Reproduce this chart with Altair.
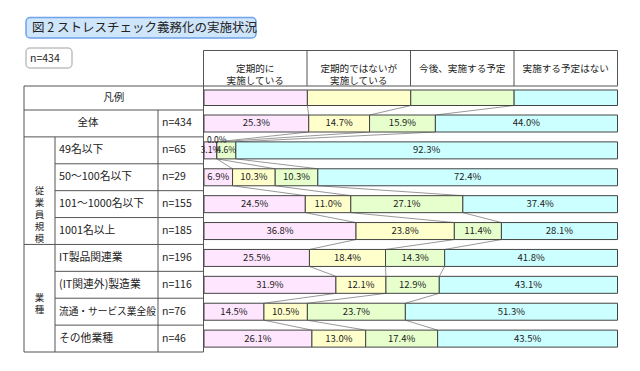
import altair as alt
import pandas as pd

# ---------------- data ----------------
title_text = "図 2 ストレスチェック義務化の実施状況"
total_n_text = "n=434"
legend_label = "凡例"
series = ["定期的に\n実施している", "定期的ではないが\n実施している", "今後、実施する予定", "実施する予定はない"]
categories = ["全体", "49名以下", "50～100名以下", "101～1000名以下", "1001名以上",
              "IT製品関連業", "(IT関連外)製造業", "流通・サービス業全般", "その他業種"]
group_labels = ["従\n業\n員\n規\n模", "業\n種"]
group_first_row = [1, 5]
group_last_row = [4, 8]
n_values = [434, 65, 29, 155, 185, 196, 116, 76, 46]
s_regular = [25.3, 3.1, 6.9, 24.5, 36.8, 25.5, 31.9, 14.5, 26.1]
s_irregular = [14.7, 0.0, 10.3, 11.0, 23.8, 18.4, 12.1, 10.5, 13.0]
s_planned = [15.9, 4.6, 10.3, 27.1, 11.4, 14.3, 12.9, 23.7, 17.4]
s_none = [44.0, 92.3, 72.4, 37.4, 28.1, 41.8, 43.1, 51.3, 43.5]
colors = ["#FFE6FF", "#FFFFCC", "#E6FFCC", "#CCFFFF"]

# ---------------- layout (page px) ----------------
OX, OY = 8, 8
ROW_TOP, ROW_H, NROWS = 110.0, 26.89, 9
TL, C1, C2, C3, RIGHT = 24.0, 55.0, 158.0, 203.5, 617.5
HEAD_T, HEAD_B = 50.5, 86.0
BAR_T, BAR_B = 5.0 / ROW_H, 22.0 / ROW_H
LEG_T, LEG_B = (90.0 - ROW_TOP) / ROW_H, (105.5 - ROW_TOP) / ROW_H
FONT = "Noto Sans CJK JP"

xs = alt.Scale(domain=[0, 100], range=[204 - OX, RIGHT - OX], nice=False, zero=False)
ys = alt.Scale(domain=[0, NROWS], range=[ROW_TOP - OY, ROW_TOP + ROW_H * NROWS - OY], nice=False, zero=False)

# ---------------- bar segments ----------------
series_vals = [s_regular, s_irregular, s_planned, s_none]
seg_rows, lab_rows, cums = [], [], []
leg_cum = [0, 25, 50, 75, 100]
for k in range(4):
    seg_rows.append(dict(row=-1, s=k, x0=leg_cum[k], x1=leg_cum[k + 1], t=LEG_T, b=LEG_B))
cums.append((leg_cum, LEG_T, LEG_B))
for i in range(NROWS):
    vals = [sv[i] for sv in series_vals]
    tot = sum(vals)
    c = [0.0]
    for v in vals:
        c.append(c[-1] + v / tot * 100)
    for k in range(4):
        seg_rows.append(dict(row=i, s=k, x0=c[k], x1=c[k + 1], t=i + BAR_T, b=i + BAR_B))
        mid = (c[k] + c[k + 1]) / 2
        ylab = i + 0.5 if vals[k] > 0 else i + 0.115
        lab_rows.append(dict(x=mid, y=ylab, text=f"{vals[k]:.1f}%", size=9.5 if vals[k] >= 6 else 8.5))
    cums.append((c, i + BAR_T, i + BAR_B))

seg_df = pd.DataFrame(seg_rows)
seg_df["series"] = [series[k] for k in seg_df["s"]]
lab_df = pd.DataFrame(lab_rows)

conn_rows = []
for a in range(len(cums) - 1):
    ca, _, ba = cums[a]
    cb, tb, _ = cums[a + 1]
    for k in range(1, 4):
        conn_rows.append(dict(x=ca[k], y=ba, x2=cb[k], y2=tb))
conn_df = pd.DataFrame(conn_rows)

bars = alt.Chart(seg_df).mark_rect(stroke="#444444", strokeWidth=1).encode(
    x=alt.X("x0:Q", scale=xs, axis=None), x2="x1:Q",
    y=alt.Y("t:Q", scale=ys, axis=None), y2="b:Q",
    color=alt.Color("series:N", scale=alt.Scale(domain=series, range=colors), legend=None),
)
connectors = alt.Chart(conn_df).mark_rule(color="#999999", strokeWidth=1).encode(
    x=alt.X("x:Q", scale=xs, axis=None), x2="x2:Q",
    y=alt.Y("y:Q", scale=ys, axis=None), y2="y2:Q",
)
bar_labels = alt.Chart(lab_df).mark_text(font=FONT, color="#222222", align="center", baseline="middle").encode(
    x=alt.X("x:Q", scale=xs, axis=None), y=alt.Y("y:Q", scale=ys, axis=None), text="text:N",
    size=alt.Size("size:Q", scale=None, legend=None),
)

# ---------------- table grid ----------------
def P(x, y):
    return x - OX, y - OY

grid = []
def line(x1, y1, x2, y2):
    a, b = P(x1, y1); c, d = P(x2, y2)
    grid.append(dict(x=a, y=b, x2=c, y2=d))

line(C3, HEAD_T, RIGHT, HEAD_T)
for k in range(5):
    xv = C3 + (RIGHT - C3) * k / 4
    line(xv, HEAD_T, xv, HEAD_B)
line(TL, HEAD_B, RIGHT, HEAD_B)
line(TL, HEAD_B, TL, ROW_TOP + ROW_H * NROWS)
line(C3, HEAD_B, C3, ROW_TOP + ROW_H * NROWS)
line(TL, ROW_TOP, C3, ROW_TOP)
for i in range(1, NROWS + 1):
    yv = ROW_TOP + ROW_H * i
    full = i in (1, 5, 9)
    line(TL if full else C1, yv, C3, yv)
line(C1, ROW_TOP + ROW_H, C1, ROW_TOP + ROW_H * NROWS)
line(C2, ROW_TOP, C2, ROW_TOP + ROW_H * NROWS)
grid_df = pd.DataFrame(grid)

grid_layer = alt.Chart(grid_df).mark_rule(color="#555555", strokeWidth=1).encode(
    x=alt.X("x:Q", scale=None, axis=None), x2="x2:Q",
    y=alt.Y("y:Q", scale=None, axis=None), y2="y2:Q",
)

# ---------------- boxes ----------------
box_df = pd.DataFrame([
    dict(x=26 - OX, x2=256 - OX, y=17.5 - OY, y2=38 - OY, fill="#CFE5FA", stroke="#6FA3EA"),
    dict(x=26 - OX, x2=72 - OX, y=48 - OY, y2=68 - OY, fill="#FFFFFF", stroke="#C0C0C0"),
])
boxes = alt.Chart(box_df).mark_rect(cornerRadius=4, strokeWidth=1.5).encode(
    x=alt.X("x:Q", scale=None, axis=None), x2="x2:Q",
    y=alt.Y("y:Q", scale=None, axis=None), y2="y2:Q",
    fill=alt.Fill("fill:N", scale=None), stroke=alt.Stroke("stroke:N", scale=None),
)

# ---------------- texts ----------------
left_txt, center_txt, head_txt = [], [], []
def T(lst, x, y, text, size):
    a, b = P(x, y)
    lst.append(dict(x=a, y=b, text=text, size=size))

def fit_size(text, avail, base):
    em = sum(0.56 if ord(ch) < 128 else 1.0 for ch in text)
    return min(base, avail / em)

T(left_txt, 32, 28, title_text, 12.5)
T(left_txt, 30, 58.5, total_n_text, 10.5)
for k in range(4):
    xc = C3 + (RIGHT - C3) * (k + 0.5) / 4
    T(head_txt, xc, 68.5, series[k], 9.6)
T(center_txt, (TL + C3) / 2, 98, legend_label, 10.5)
T(center_txt, (TL + C2) / 2 - 3, ROW_TOP + ROW_H * 0.5, categories[0], 10.5)
for i in range(NROWS):
    yc = ROW_TOP + ROW_H * (i + 0.5)
    if i > 0:
        T(left_txt, 59, yc, categories[i], fit_size(categories[i], C2 - 59 - 2, 10.8))
    T(left_txt, 162, yc, f"n={n_values[i]}", 10.5)
for g in range(len(group_labels)):
    yc = ROW_TOP + ROW_H * (group_first_row[g] + group_last_row[g] + 1) / 2
    T(center_txt, (TL + C1) / 2, yc, group_labels[g], 9.5)

left_df = pd.DataFrame(left_txt)
center_df = pd.DataFrame(center_txt)
head_df = pd.DataFrame(head_txt)

def text_layer(df, align, lh=12):
    return alt.Chart(df).mark_text(font=FONT, color="#222222", align=align, baseline="middle",
                                   lineBreak="\n", lineHeight=lh).encode(
        x=alt.X("x:Q", scale=None, axis=None), y=alt.Y("y:Q", scale=None, axis=None),
        text="text:N", size=alt.Size("size:Q", scale=None, legend=None),
    )

chart = alt.layer(
    boxes, grid_layer, connectors, bars, bar_labels,
    text_layer(left_df, "left"), text_layer(center_df, "center"), text_layer(head_df, "center", 12.5),
).resolve_scale(x="independent", y="independent").properties(
    width=624, height=355, autosize=alt.AutoSizeParams(type="none"), padding=0,
    background="#FFFFFF",
).configure_view(stroke=None)

chart.save("out.html", embed_options={"renderer": "svg", "actions": False})
